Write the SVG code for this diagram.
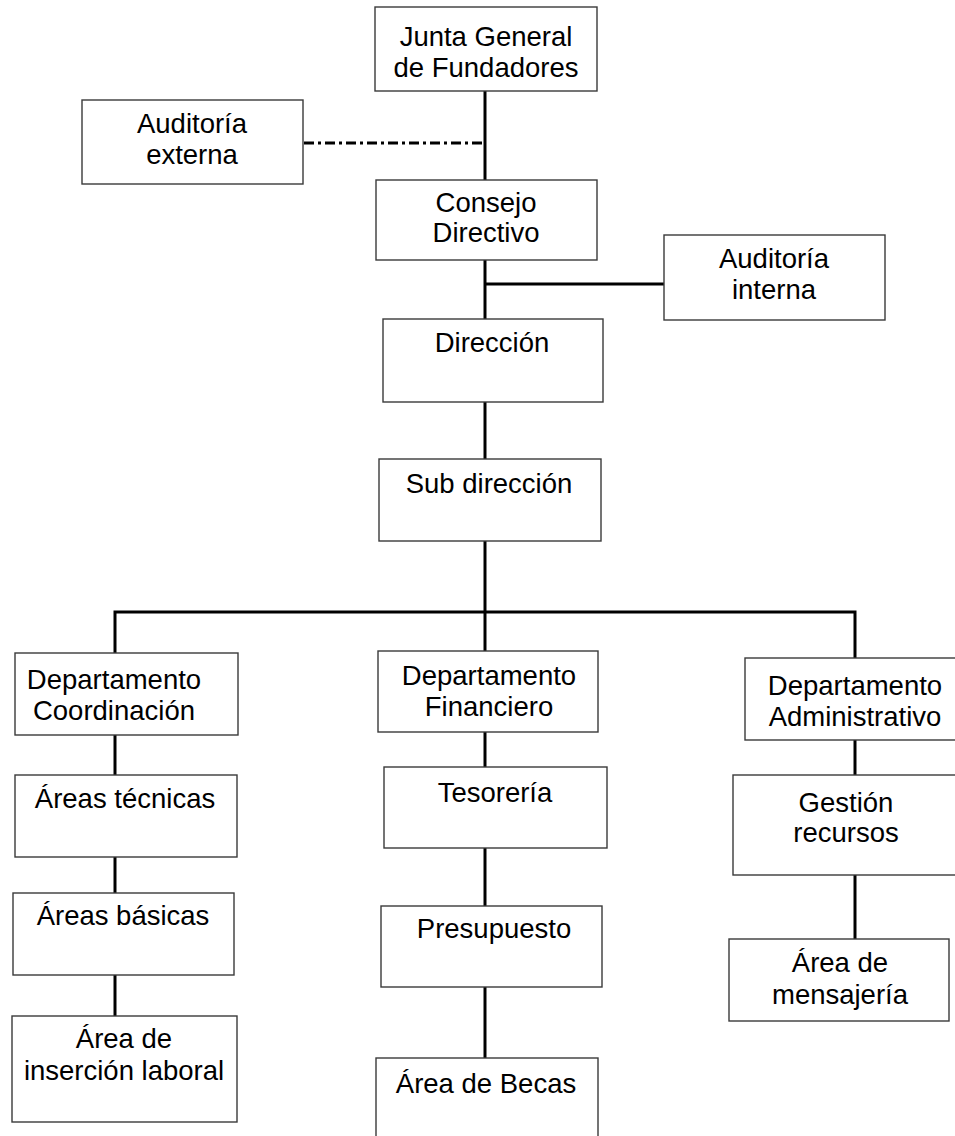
<svg xmlns="http://www.w3.org/2000/svg" width="955" height="1136" viewBox="0 0 955 1136">
<style>
.box{fill:#fff;stroke:#3a3a3a;stroke-width:1.4}
.t{font-family:"Liberation Sans",Arial,sans-serif;font-size:27.5px;fill:#000;text-anchor:middle}
.ln{stroke:#000;stroke-width:3;fill:none}
.dd{stroke:#000;stroke-width:3;fill:none;stroke-dasharray:10 4 3 4}
</style>
<rect width="955" height="1136" fill="#fff"/>
<g id="connectors">
<line class="ln" x1="485" y1="91" x2="485" y2="180"/>
<line class="dd" x1="304" y1="143" x2="484" y2="143"/>
<line class="ln" x1="485" y1="260" x2="485" y2="319"/>
<line class="ln" x1="485" y1="284" x2="664" y2="284"/>
<line class="ln" x1="485" y1="402" x2="485" y2="459"/>
<line class="ln" x1="485" y1="541" x2="485" y2="651"/>
<polyline class="ln" points="115,653 115,612 855,612 855,658"/>
<line class="ln" x1="115" y1="735" x2="115" y2="775"/>
<line class="ln" x1="115" y1="857" x2="115" y2="893"/>
<line class="ln" x1="115" y1="975" x2="115" y2="1016"/>
<line class="ln" x1="485" y1="732" x2="485" y2="767"/>
<line class="ln" x1="485" y1="848" x2="485" y2="906"/>
<line class="ln" x1="485" y1="987" x2="485" y2="1058"/>
<line class="ln" x1="855" y1="740" x2="855" y2="775"/>
<line class="ln" x1="855" y1="875" x2="855" y2="939"/>
</g>
<g id="junta"><rect class="box" x="375" y="7" width="222" height="84"/><text class="t" x="486" y="46">Junta General</text><text class="t" x="486" y="77">de Fundadores</text></g>
<g id="auditoria-externa"><rect class="box" x="82" y="100" width="221" height="84"/><text class="t" x="192" y="133">Auditoría</text><text class="t" x="192" y="164">externa</text></g>
<g id="consejo"><rect class="box" x="376" y="180" width="221" height="80"/><text class="t" x="486" y="212">Consejo</text><text class="t" x="486" y="242">Directivo</text></g>
<g id="auditoria-interna"><rect class="box" x="664" y="235" width="221" height="85"/><text class="t" x="774" y="268">Auditoría</text><text class="t" x="774" y="299">interna</text></g>
<g id="direccion"><rect class="box" x="383" y="319" width="220" height="83"/><text class="t" x="492" y="352">Dirección</text></g>
<g id="subdireccion"><rect class="box" x="379" y="459" width="222" height="82"/><text class="t" x="489" y="493">Sub dirección</text></g>
<g id="dep-coordinacion"><rect class="box" x="15" y="653" width="223" height="82"/><text class="t" x="114" y="689">Departamento</text><text class="t" x="114" y="720">Coordinación</text></g>
<g id="dep-financiero"><rect class="box" x="378" y="651" width="220" height="81"/><text class="t" x="489" y="685">Departamento</text><text class="t" x="489" y="716">Financiero</text></g>
<g id="dep-administrativo"><rect class="box" x="745" y="658" width="222" height="82"/><text class="t" x="855" y="695">Departamento</text><text class="t" x="855" y="726">Administrativo</text></g>
<g id="areas-tecnicas"><rect class="box" x="15" y="775" width="222" height="82"/><text class="t" x="125" y="808">Áreas técnicas</text></g>
<g id="areas-basicas"><rect class="box" x="13" y="893" width="221" height="82"/><text class="t" x="123" y="925">Áreas básicas</text></g>
<g id="area-insercion"><rect class="box" x="12" y="1016" width="225" height="106"/><text class="t" x="124" y="1048">Área de</text><text class="t" x="124" y="1080">inserción laboral</text></g>
<g id="tesoreria"><rect class="box" x="384" y="767" width="223" height="81"/><text class="t" x="495" y="802">Tesorería</text></g>
<g id="presupuesto"><rect class="box" x="381" y="906" width="221" height="81"/><text class="t" x="494" y="938">Presupuesto</text></g>
<g id="area-becas"><rect class="box" x="376" y="1058" width="222" height="90"/><text class="t" x="486" y="1093">Área de Becas</text></g>
<g id="gestion-recursos"><rect class="box" x="733" y="775" width="227" height="100"/><text class="t" x="846" y="812">Gestión</text><text class="t" x="846" y="842">recursos</text></g>
<g id="area-mensajeria"><rect class="box" x="729" y="939" width="220" height="82"/><text class="t" x="840" y="972">Área de</text><text class="t" x="840" y="1004">mensajería</text></g>
</svg>
